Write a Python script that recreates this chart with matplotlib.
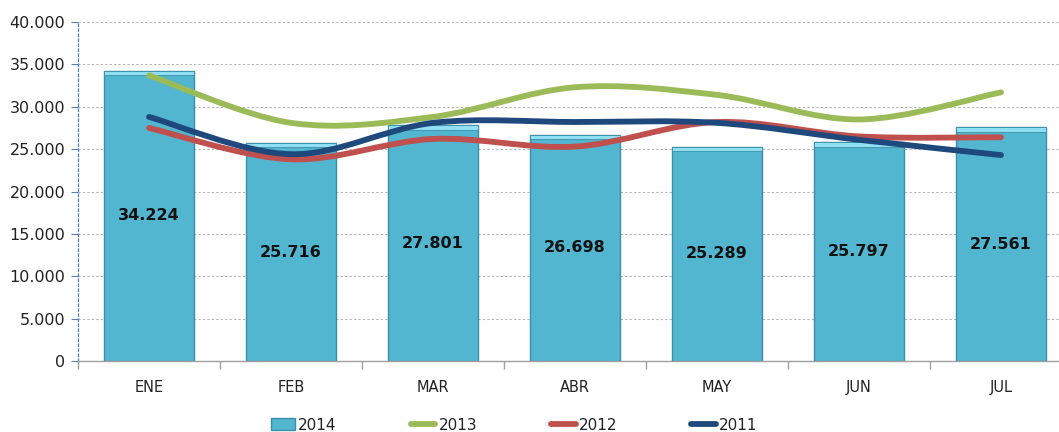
import numpy as np
import matplotlib
matplotlib.use("Agg")
import matplotlib.pyplot as plt
from matplotlib.path import Path
from matplotlib.patches import PathPatch, Patch
from matplotlib.lines import Line2D
from matplotlib.ticker import FuncFormatter, MultipleLocator

months = ["ENE", "FEB", "MAR", "ABR", "MAY", "JUN", "JUL"]
v2014 = [34224, 25716, 27801, 26698, 25289, 25797, 27561]
v2013 = [33700, 28100, 28800, 32300, 31400, 28500, 31700]
v2012 = [27500, 23800, 26200, 25300, 28200, 26500, 26400]
v2011 = [28800, 24400, 28100, 28200, 28100, 26100, 24300]

C_BAR = "#52B6D1"
C_BAR_EDGE = "#3C8EA6"
C_BEVEL = "#8EE0F2"
C_2013 = "#9BBB59"
C_2012 = "#C0504D"
C_2011 = "#1F497D"

W, H = 1059, 432
fig = plt.figure(figsize=(W / 100, H / 100), dpi=100)
left_px, right_px, top_px, bot_px = 78, 1072, 22, 361
ax = fig.add_axes([left_px / W, 1 - bot_px / H, (right_px - left_px) / W, (bot_px - top_px) / H])

x = np.arange(len(months))
bw = 0.64
ax.bar(x, v2014, width=bw, color=C_BAR, edgecolor=C_BAR_EDGE, linewidth=1.0, zorder=2)
# top bevel highlight
bev = 500
ax.bar(x, [bev] * len(x), bottom=[v - bev for v in v2014], width=bw, color=C_BEVEL,
       edgecolor=C_BAR_EDGE, linewidth=0.6, zorder=2.1)

for xi, v in zip(x, v2014):
    ax.text(xi, v / 2, f"{v:,}".replace(",", "."), ha="center", va="center",
            fontsize=11.5, fontweight="bold", color="#111111", zorder=5,
            family="DejaVu Sans")


def smooth_path(xs, ys):
    xs = np.asarray(xs, float)
    ys = np.asarray(ys, float)
    pts = np.column_stack([xs, ys])
    n = len(pts)
    verts = [pts[0]]
    codes = [Path.MOVETO]
    for i in range(n - 1):
        p0 = pts[i - 1] if i > 0 else pts[i]
        p1 = pts[i]
        p2 = pts[i + 1]
        p3 = pts[i + 2] if i + 2 < n else pts[i + 1]
        c1 = p1 + (p2 - p0) / 6.0
        c2 = p2 - (p3 - p1) / 6.0
        verts += [c1, c2, p2]
        codes += [Path.CURVE4] * 3
    return Path(verts, codes)


for vals, col in [(v2013, C_2013), (v2012, C_2012), (v2011, C_2011)]:
    patch = PathPatch(smooth_path(x, vals), facecolor="none", edgecolor=col,
                      linewidth=4.2, capstyle="round", joinstyle="round", zorder=4)
    ax.add_patch(patch)

ax.set_xlim(-0.5, len(months) - 0.5)
ax.set_ylim(0, 40000)
ax.yaxis.set_major_locator(MultipleLocator(5000))
ax.yaxis.set_major_formatter(FuncFormatter(lambda v, p: f"{int(v):,}".replace(",", ".")))
ax.grid(axis="y", color="#B4B4B4", linestyle=(0, (2, 2)), linewidth=0.8, zorder=0)
ax.set_axisbelow(True)

ax.set_xticks(x)
ax.set_xticklabels(months)
ax.set_xticks(np.arange(len(months) + 1) - 0.5, minor=True)
ax.tick_params(axis="x", which="major", length=0, pad=14, labelsize=10.5, labelcolor="#222222")
ax.tick_params(axis="x", which="minor", length=6, color="#A0A0A0", width=1)
ax.tick_params(axis="y", which="major", length=5, color="#4F81BD", width=0.8,
               labelsize=11.5, labelcolor="#222222", pad=4)

for s in ["top", "right"]:
    ax.spines[s].set_visible(False)
ax.spines["bottom"].set_color("#A0A0A0")
ax.spines["bottom"].set_linewidth(1)
ax.spines["left"].set_color("#4F81BD")
ax.spines["left"].set_linestyle((0, (2, 2)))
ax.spines["left"].set_linewidth(0.9)

handles = [
    Patch(facecolor=C_BAR, edgecolor=C_BAR_EDGE, label="2014"),
    Line2D([], [], color=C_2013, linewidth=4.2, solid_capstyle="round", label="2013"),
    Line2D([], [], color=C_2012, linewidth=4.2, solid_capstyle="round", label="2012"),
    Line2D([], [], color=C_2011, linewidth=4.2, solid_capstyle="round", label="2011"),
]
fig.legend(handles=handles, loc="center", bbox_to_anchor=(514 / W, 1 - 425 / H), ncol=4,
           frameon=False, fontsize=11, handlelength=1.6, handleheight=0.8,
           handletextpad=0.2, columnspacing=4.85, labelcolor="#222222")

fig.savefig("out.png", dpi=100)
